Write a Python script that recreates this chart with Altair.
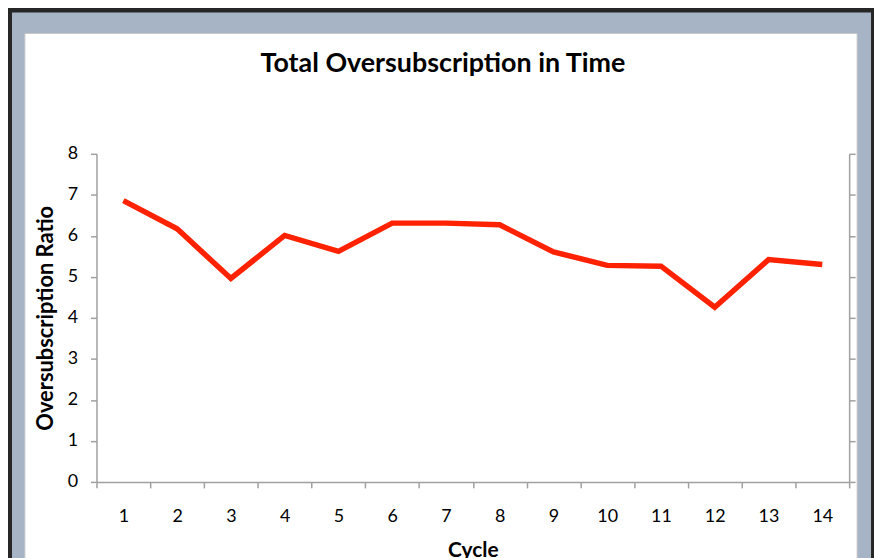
import altair as alt
import pandas as pd

cycles = [str(i) for i in range(1, 15)]
ratios = [6.86, 6.17, 4.96, 6.01, 5.62, 6.31, 6.31, 6.27, 5.61, 5.28, 5.26, 4.26, 5.42, 5.30]

df = pd.DataFrame({"Cycle": cycles, "Ratio": ratios})

FONT = "Lato"
AXIS_GRAY = "#A0A0A0"

one = alt.Data(values=[{}])

frame = alt.Chart(one).mark_rect(color="#A6B4C6").encode(
    x=alt.value(-85), x2=alt.value(779), y=alt.value(-142), y2=alt.value(520)
)
panel = alt.Chart(one).mark_rect(color="white", stroke="#C8C8C8", strokeWidth=1).encode(
    x=alt.value(-72), x2=alt.value(765), y=alt.value(-121), y2=alt.value(520)
)

base = alt.Chart(df)

line = base.mark_line(color="#FF2200", strokeWidth=5.5, strokeJoin="miter").encode(
    x=alt.X(
        "Cycle:O",
        sort=cycles,
        bandPosition=0.5,
        scale=alt.Scale(type="band", paddingInner=0, paddingOuter=0),
        axis=alt.Axis(
            title="Cycle",
            tickBand="extent",
            labelAngle=0,
            labelPadding=20,
            titlePadding=14,
            titleFontSize=21,
            zindex=3,
        ),
    ),
    y=alt.Y(
        "Ratio:Q",
        scale=alt.Scale(domain=[0, 8], nice=False, zero=True),
        axis=alt.Axis(
            title="Oversubscription Ratio",
            values=list(range(0, 9)),
            grid=False,
            labelPadding=13,
            titlePadding=10,
            titleFontSize=22,
            zindex=3,
        ),
    ),
)

right_axis = base.mark_line(opacity=0).encode(
    y=alt.Y(
        "Ratio:Q",
        scale=alt.Scale(domain=[0, 8], nice=False, zero=True),
        axis=alt.Axis(orient="right", values=list(range(0, 9)), labels=False,
                      title=None, grid=False, zindex=3),
    ),
)

chart = (
    alt.layer(frame, panel, line, right_axis)
    .resolve_axis(y="independent")
    .properties(
        width=757,
        height=330,
        autosize=alt.AutoSizeParams(type="none"),
        padding={"left": 89, "top": 145, "right": 25, "bottom": 95},
        background="#262626",
        title=alt.TitleParams(
            "Total Oversubscription in Time",
            fontSize=27,
            fontWeight="bold",
            font=FONT,
            color="black",
            anchor="middle",
            frame="group",
            dx=-30,
            dy=66,
            offset=0,
            zindex=3,
        ),
    )
    .configure_view(stroke=None)
    .configure_axis(
        domainColor=AXIS_GRAY,
        domainWidth=1.5,
        tickColor=AXIS_GRAY,
        tickWidth=1.5,
        tickSize=6,
        labelFont=FONT,
        labelFontSize=18,
        labelColor="black",
        titleFont=FONT,
        titleFontWeight="bold",
        titleColor="black",
    )
)

chart.save("out.html", embed_options={"renderer": "svg", "actions": False})
